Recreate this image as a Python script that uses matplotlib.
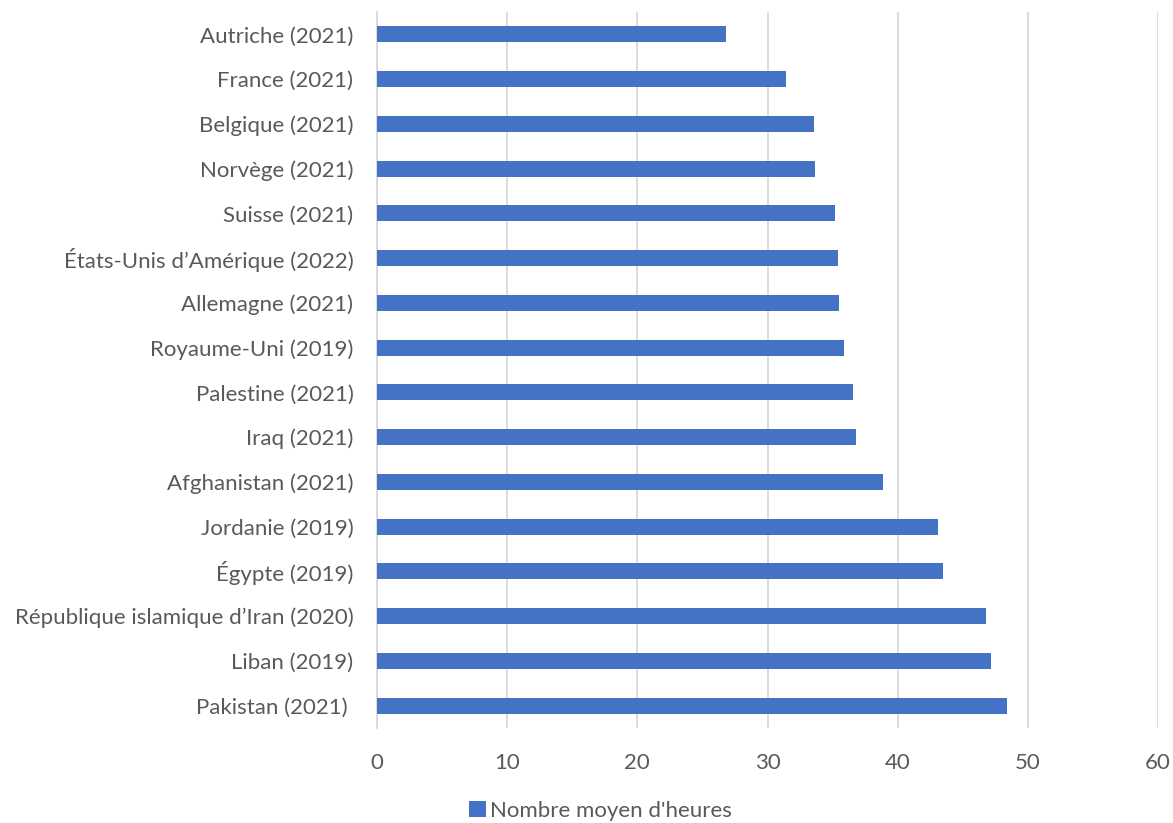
import matplotlib.pyplot as plt

countries = ["Autriche (2021)", "France (2021)", "Belgique (2021)", "Norvège (2021)",
             "Suisse (2021)", "États-Unis d\u2019Amérique (2022)", "Allemagne (2021)",
             "Royaume-Uni (2019)", "Palestine (2021)", "Iraq (2021)",
             "Afghanistan (2021)", "Jordanie (2019)", "Égypte (2019)",
             "République islamique d\u2019Iran (2020)", "Liban (2019)", "Pakistan (2021) "]
hours = [26.8, 31.4, 33.6, 33.65, 35.2, 35.4, 35.5, 35.9, 36.6, 36.8,
         38.9, 43.1, 43.5, 46.8, 47.2, 48.4]
series_name = "Nombre moyen d'heures"

plt.rcParams['font.family'] = ['Lato', 'DejaVu Sans']

fig = plt.figure(figsize=(11.73, 8.23), dpi=100)
ax = fig.add_axes([377 / 1173, 1 - 728 / 823, (1158 - 377) / 1173, (728 - 12) / 823])

pos = list(range(len(countries)))
ax.barh(pos, hours, height=0.36, color="#4472C4", label=series_name, zorder=3)

ax.set_ylim(-0.5, len(countries) - 0.5)
ax.invert_yaxis()
ax.set_xlim(0, 60)
ax.set_xticks(range(0, 61, 10))
ax.set_yticks(pos)
ax.set_yticklabels(countries)

ax.grid(axis="x", color="#D9D9D9", linewidth=1.3, zorder=0)
for side in ["top", "right", "bottom"]:
    ax.spines[side].set_visible(False)
ax.spines["left"].set_color("#D9D9D9")
ax.spines["left"].set_linewidth(1.3)

ax.tick_params(axis="both", length=0, labelsize=16, labelcolor="#595959")
ax.tick_params(axis="x", pad=18)
ax.tick_params(axis="y", pad=17)

ax.legend(loc="center", bbox_to_anchor=(0.286, -0.116), frameon=False, fontsize=16,
          labelcolor="#595959", handlelength=0.75, handleheight=0.75, handletextpad=0.2)

fig.savefig("out.png", dpi=100)
